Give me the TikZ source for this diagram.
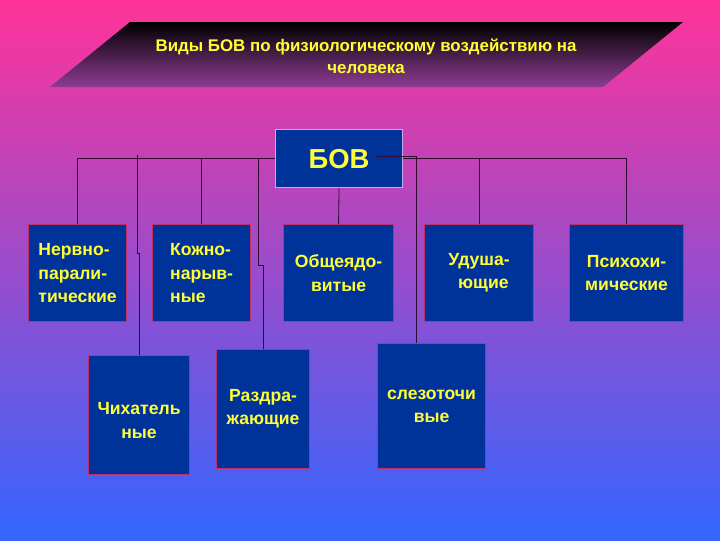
\documentclass[tikz,border=0pt]{standalone}
\usepackage{fontspec}
\setmainfont{Liberation Sans}
\usetikzlibrary{positioning}

\definecolor{bgtop}{HTML}{FF3399}
\definecolor{bgbot}{HTML}{3366FF}
\definecolor{bovblue}{HTML}{003399}
\definecolor{boxedge}{HTML}{C0306A}
\definecolor{bovedge}{HTML}{C8A8F0}
\definecolor{txtyellow}{HTML}{FFFF33}
\definecolor{wire}{HTML}{300A30}
\definecolor{titlebot}{HTML}{8E3C92}

\tikzset{
  kind/.style={draw=boxedge, fill=bovblue, line width=0.8pt, anchor=north west,
    inner sep=0pt, text=txtyellow, font=\bfseries\fontsize{12.5}{16.5}\selectfont},
  link/.style={draw=wire, line width=0.6pt}
}

\begin{document}
\begin{tikzpicture}[x=0.025cm,y=-0.025cm]
 % background
 \shade[top color=bgtop,bottom color=bgbot] (0,0) rectangle (720,540);
 \useasboundingbox (0,0) rectangle (720,540);

 % title banner
 \shade[top color=black,bottom color=titlebot] (130,22) -- (683,22) -- (603,87) -- (50,87) -- cycle;
 \node[text=txtyellow, font=\bfseries\fontsize{12}{15.6}\selectfont, align=center] (title) at (366,56)
   {Виды БОВ по физиологическому воздействию на\\человека};

 % bus line behind the top box
 \coordinate (busl) at (78,158);
 \coordinate (busr) at (627,158);
 \draw[link] (busl) -- (busr);

 % top box
 \node[kind, draw=bovedge, minimum width=127*0.025cm, minimum height=58*0.025cm,
       font=\bfseries\fontsize{19.5}{24}\selectfont] (bov) at (275,129) {БОВ};

 % first row
 \node[kind, minimum width=98*0.025cm,  minimum height=97*0.025cm, align=left]   (nerv) at (28,224)  {Нервно-\\парали-\\тические};
 \node[kind, minimum width=98*0.025cm,  minimum height=97*0.025cm, align=left]   (kozh) at (152,224) {Кожно-\\нарыв-\\ные};
 \node[kind, minimum width=110*0.025cm, minimum height=97*0.025cm, align=center] (obsh) at (283,224) {Общеядо-\\витые};
 \node[kind, minimum width=109*0.025cm, minimum height=97*0.025cm, align=left]   (udush) at (424,224) {Удуша-\\\ \ ющие};
 \node[kind, minimum width=114*0.025cm, minimum height=97*0.025cm, align=center] (psih) at (569,224) {Психохи-\\мические};

 % second row
 \node[kind, minimum width=101*0.025cm, minimum height=119*0.025cm, align=center] (chih) at (88,355)  {\\Чихатель\\ные};
 \node[kind, minimum width=93*0.025cm,  minimum height=119*0.025cm, align=center] (razd) at (216,349) {Раздра-\\жающие};
 \node[kind, minimum width=108*0.025cm, minimum height=125*0.025cm, align=center] (slez) at (377,343) {слезоточи\\вые};

 % drops from the bus
 \foreach \n in {nerv,kozh,udush,psih}
   \draw[link] (\n.north |- busl) -- (\n.north);
 \draw[link] (bov.south) -- (obsh.north);
 \draw[link] (chih.north) -- ++(0,-102) -- ++(-2,0) -- ++(0,-98);
 \draw[link] (razd.north) -- ++(0,-84) -- ++(-5,0) -- ++(0,-107);
 \draw[link] ([xshift=-15*0.025cm]slez.north) -- ++(0,-187) -- (376,156);
\end{tikzpicture}
\end{document}
